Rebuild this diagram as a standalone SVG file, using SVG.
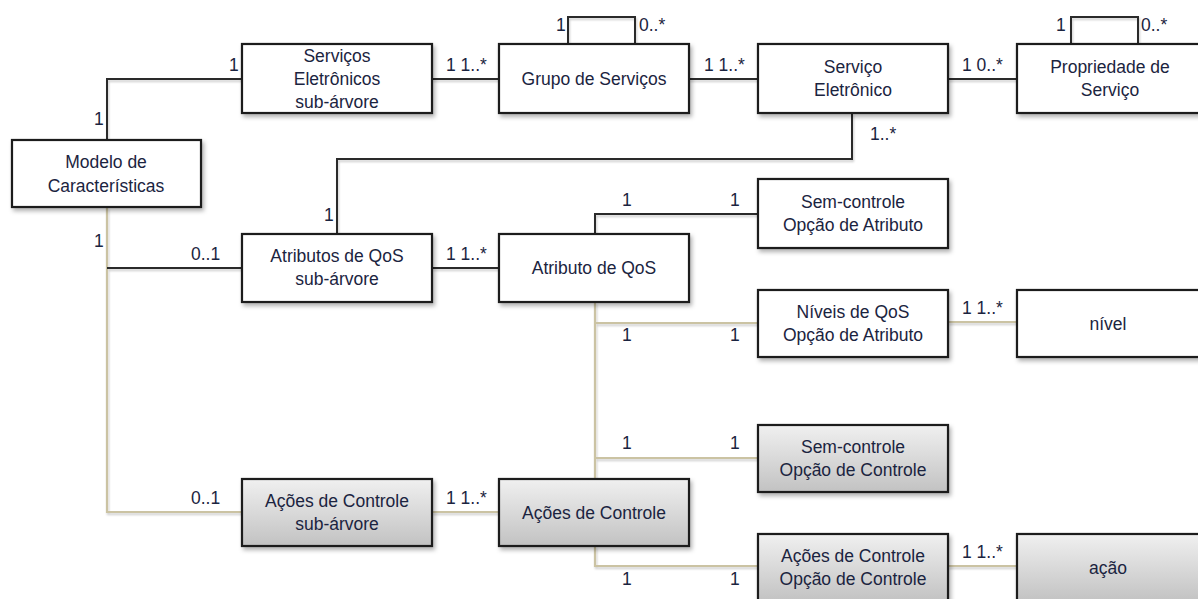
<svg xmlns="http://www.w3.org/2000/svg" width="1198" height="599" viewBox="0 0 1198 599">
  <defs>
    <linearGradient id="grayFill" x1="0" y1="0" x2="0" y2="1">
      <stop offset="0" stop-color="#f0f0f0"/>
      <stop offset="1" stop-color="#c2c2c2"/>
    </linearGradient>
    <filter id="shadow" x="-10%" y="-20%" width="130%" height="150%">
      <feDropShadow dx="2" dy="3" stdDeviation="2" flood-color="#000" flood-opacity="0.3"/>
    </filter>
    <filter id="lineShadow" x="-5%" y="-50%" width="110%" height="200%">
      <feDropShadow dx="1" dy="2" stdDeviation="1.2" flood-color="#000" flood-opacity="0.2"/>
    </filter>
  </defs>
  <style>
    .box { fill: #ffffff; stroke: #1a1a1a; stroke-width: 2.2; filter: url(#shadow); }
    .box.gray { fill: url(#grayFill); }
    .label { font-family: "Liberation Sans", Arial, sans-serif; font-size: 17.5px; fill: #1b2440; text-anchor: middle; }
    .mult { font-family: "Liberation Sans", Arial, sans-serif; font-size: 17.5px; fill: #1b2440; }
    .dark { fill: none; stroke: #2b2b2b; stroke-width: 2; }
    .tan { fill: none; stroke: #cbc3a3; stroke-width: 2.2; }
  </style>
  <rect width="1198" height="599" fill="#ffffff"/>

  <!-- connectors -->
  <g id="connectors" filter="url(#lineShadow)">
    <path class="dark" d="M107,140 V79 H242"/>
    <path class="dark" d="M432,79 H499"/>
    <path class="dark" d="M689,79 H758"/>
    <path class="dark" d="M948,79 H1017"/>
    <path class="dark" d="M568,44 V17 H635 V44"/>
    <path class="dark" d="M1071,44 V17 H1138 V44"/>
    <path class="dark" d="M852,113 V159 H337 V234"/>
    <path class="tan" d="M107,207 V512 H242"/>
    <path class="dark" d="M107,268 H242"/>
    <path class="dark" d="M432,268 H499"/>
    <path class="dark" d="M595,234 V214 H758"/>
    <path class="tan" d="M595,302 V479"/>
    <path class="tan" d="M595,323 H758"/>
    <path class="tan" d="M595,458 H758"/>
    <path class="tan" d="M432,512 H499"/>
    <path class="tan" d="M595,546 V566 H758"/>
    <path class="tan" d="M948,322 H1017"/>
    <path class="tan" d="M948,566 H1017"/>
  </g>

  <!-- multiplicities -->
  <g id="multiplicities">
    <text class="mult" x="229" y="71">1</text>
    <text class="mult" x="94" y="125">1</text>
    <text class="mult" x="446" y="71">1 1..*</text>
    <text class="mult" x="556" y="31">1</text>
    <text class="mult" x="639" y="31">0..*</text>
    <text class="mult" x="704" y="71">1 1..*</text>
    <text class="mult" x="962" y="71">1 0..*</text>
    <text class="mult" x="1056" y="31">1</text>
    <text class="mult" x="1141" y="31">0..*</text>
    <text class="mult" x="870" y="140">1..*</text>
    <text class="mult" x="324" y="221">1</text>
    <text class="mult" x="94" y="247">1</text>
    <text class="mult" x="191" y="260">0..1</text>
    <text class="mult" x="446" y="260">1 1..*</text>
    <text class="mult" x="622" y="206">1</text>
    <text class="mult" x="730" y="206">1</text>
    <text class="mult" x="622" y="341">1</text>
    <text class="mult" x="730" y="341">1</text>
    <text class="mult" x="962" y="314">1 1..*</text>
    <text class="mult" x="622" y="449">1</text>
    <text class="mult" x="730" y="449">1</text>
    <text class="mult" x="191" y="504">0..1</text>
    <text class="mult" x="446" y="504">1 1..*</text>
    <text class="mult" x="622" y="585">1</text>
    <text class="mult" x="730" y="585">1</text>
    <text class="mult" x="962" y="558">1 1..*</text>
  </g>

  <!-- nodes -->
  <g id="modelo">
    <rect class="box" x="12" y="140" width="189" height="67"/>
    <text class="label" x="106" y="168">Modelo de</text>
    <text class="label" x="106" y="192">Características</text>
  </g>
  <g id="servicos-subarvore">
    <rect class="box" x="242" y="44" width="190" height="69"/>
    <text class="label" x="337" y="62">Serviços</text>
    <text class="label" x="337" y="85">Eletrônicos</text>
    <text class="label" x="337" y="108">sub-árvore</text>
  </g>
  <g id="grupo-servicos">
    <rect class="box" x="499" y="44" width="190" height="69"/>
    <text class="label" x="594" y="85">Grupo de Serviços</text>
  </g>
  <g id="servico-eletronico">
    <rect class="box" x="758" y="44" width="190" height="69"/>
    <text class="label" x="853" y="73">Serviço</text>
    <text class="label" x="853" y="96">Eletrônico</text>
  </g>
  <g id="propriedade-servico">
    <rect class="box" x="1017" y="44" width="190" height="69"/>
    <text class="label" x="1110" y="73">Propriedade de</text>
    <text class="label" x="1110" y="96">Serviço</text>
  </g>
  <g id="atributos-subarvore">
    <rect class="box" x="242" y="234" width="190" height="68"/>
    <text class="label" x="337" y="262">Atributos de QoS</text>
    <text class="label" x="337" y="285">sub-árvore</text>
  </g>
  <g id="atributo-qos">
    <rect class="box" x="499" y="234" width="190" height="68"/>
    <text class="label" x="594" y="274">Atributo de QoS</text>
  </g>
  <g id="semcontrole-atributo">
    <rect class="box" x="758" y="179" width="190" height="69"/>
    <text class="label" x="853" y="208">Sem-controle</text>
    <text class="label" x="853" y="231">Opção de Atributo</text>
  </g>
  <g id="niveis-qos">
    <rect class="box" x="758" y="290" width="190" height="67"/>
    <text class="label" x="853" y="318">Níveis de QoS</text>
    <text class="label" x="853" y="341">Opção de Atributo</text>
  </g>
  <g id="nivel">
    <rect class="box" x="1017" y="290" width="190" height="67"/>
    <text class="label" x="1108" y="330">nível</text>
  </g>
  <g id="semcontrole-controle">
    <rect class="box gray" x="758" y="425" width="190" height="67"/>
    <text class="label" x="853" y="453">Sem-controle</text>
    <text class="label" x="853" y="476">Opção de Controle</text>
  </g>
  <g id="acoes-subarvore">
    <rect class="box gray" x="242" y="479" width="190" height="67"/>
    <text class="label" x="337" y="507">Ações de Controle</text>
    <text class="label" x="337" y="530">sub-árvore</text>
  </g>
  <g id="acoes-controle">
    <rect class="box gray" x="499" y="479" width="190" height="67"/>
    <text class="label" x="594" y="519">Ações de Controle</text>
  </g>
  <g id="acoes-opcao">
    <rect class="box gray" x="758" y="534" width="190" height="68"/>
    <text class="label" x="853" y="562">Ações de Controle</text>
    <text class="label" x="853" y="585">Opção de Controle</text>
  </g>
  <g id="acao">
    <rect class="box gray" x="1017" y="534" width="190" height="68"/>
    <text class="label" x="1108" y="574">ação</text>
  </g>
</svg>
